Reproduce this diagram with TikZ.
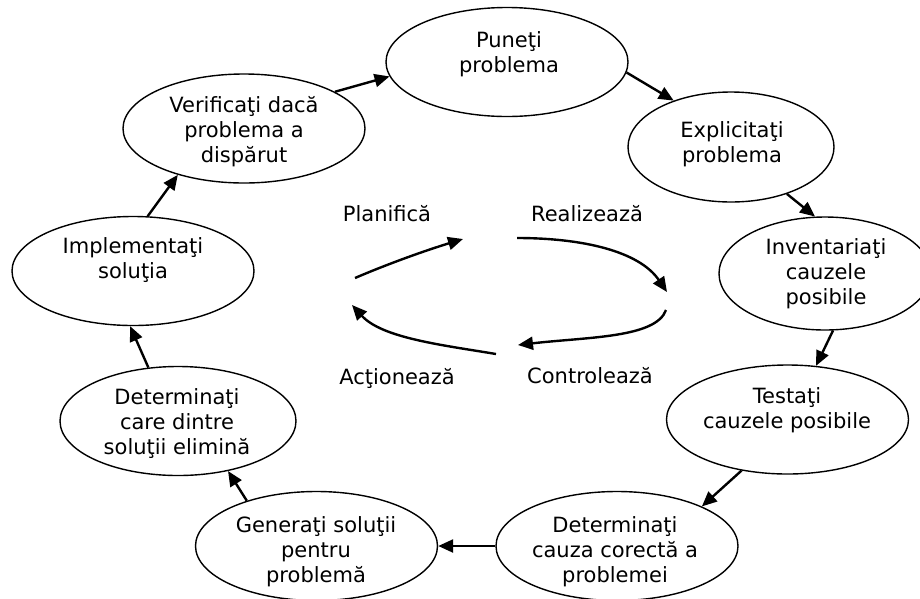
\documentclass[tikz,border=0pt]{standalone}
\usepackage{fontspec}
\setmainfont{DejaVu Sans}
\usetikzlibrary{shapes.geometric,arrows.meta}

\begin{document}
\begin{tikzpicture}[
		x=1pt,y=-1pt,
		stage/.style={
			ellipse,draw,line width=1.4pt,inner sep=0pt,
			minimum width=242pt,minimum height=109pt,
		},
		stagetext/.style={
			align=center,inner sep=0pt,font=\fontsize{21}{25}\selectfont,
		},
		phase/.style={
			inner sep=0pt,font=\fontsize{21}{25}\selectfont,
		},
		flow/.style={
			line width=2.4pt,-{Triangle[length=15pt,width=13pt]},
		},
	]

	\useasboundingbox (0,0) rectangle (920,598);

	% the nine steps round the outside
	\node [stage] (pun) at (507,62) {};
	\node [stage,minimum width=206pt,minimum height=110pt] (exp) at (731,147) {};
	\node [stage,minimum width=212pt,minimum height=113pt] (inv) at (825,273.5) {};
	\node [stage] (test) at (787.5,419.5) {};
	\node [stage] (detc) at (617,546) {};
	\node [stage] (gen) at (316.5,546) {};
	\node [stage,minimum width=236pt] (detd) at (178,421) {};
	\node [stage] (impl) at (133,271) {};
	\node [stage] (ver) at (244,128.5) {};

	\node [stagetext] (pun-t) at (509,54.5) {Puneţi\\problema};
	\node [stagetext] (exp-t) at (732,144) {Explicitaţi\\problema};
	\node [stagetext] (inv-t) at (826,274) {Inventariaţi\\cauzele\\posibile};
	\node [stagetext] (test-t) at (787,410) {Testaţi\\cauzele posibile};
	\node [stagetext] (detc-t) at (615,552) {Determinaţi\\cauza corectă a\\problemei};
	\node [stagetext] (gen-t) at (316,552) {Generaţi soluţii\\pentru\\problemă};
	\node [stagetext] (detd-t) at (177,424) {Determinaţi\\care dintre\\soluţii elimină};
	\node [stagetext] (impl-t) at (133,260.5) {Implementaţi\\soluţia};
	\node [stagetext] (ver-t) at (244,132) {Verificaţi dacă\\problema a\\dispărut};

	\draw [flow] (ver.22) -- (pun.187);
	\draw [flow] (pun.-5) -- (exp.141);
	\draw [flow] (exp.-40) -- (inv.100);
	\draw [flow] (inv.-82) -- (test.62);
	\draw [flow] (test.228) -- (detc.25);
	\draw [flow] (detc.180) -- (gen.0);
	\draw [flow] (gen.147) -- (detd.-45);
	\draw [flow] (detd.119) -- (impl.267);
	\draw [flow] (impl.75) -- (ver.215);

	% plan - do - check - act cycle in the middle
	\node [phase] (plan) at (387,213.7) {Planifică};
	\node [phase] (real) at (587,213.7) {Realizează};
	\node [phase] (act) at (397,378) {Acţionează};
	\node [phase] (ctrl) at (590,376) {Controlează};

	\coordinate (plan-s) at (355,278);
	\coordinate (plan-e) at (463,239);
	\coordinate (real-s) at (517,238);
	\coordinate (real-e) at (667,292);
	\coordinate (ctrl-s) at (666,310);
	\coordinate (ctrl-e) at (518,345);
	\coordinate (act-s) at (496,354);
	\coordinate (act-e) at (352,305);

	\draw [flow] (plan-s) .. controls +(35,-15) and +(-36,11) .. (plan-e);
	\draw [flow] (real-s) .. controls +(65,0) and +(-28,-41) .. (real-e);
	\draw [flow] (ctrl-s) .. controls +(-10,28) and +(69,-8) .. (ctrl-e);
	\draw [flow] (act-s) .. controls +(-54,-9) and +(30,33) .. (act-e);

\end{tikzpicture}
\end{document}
